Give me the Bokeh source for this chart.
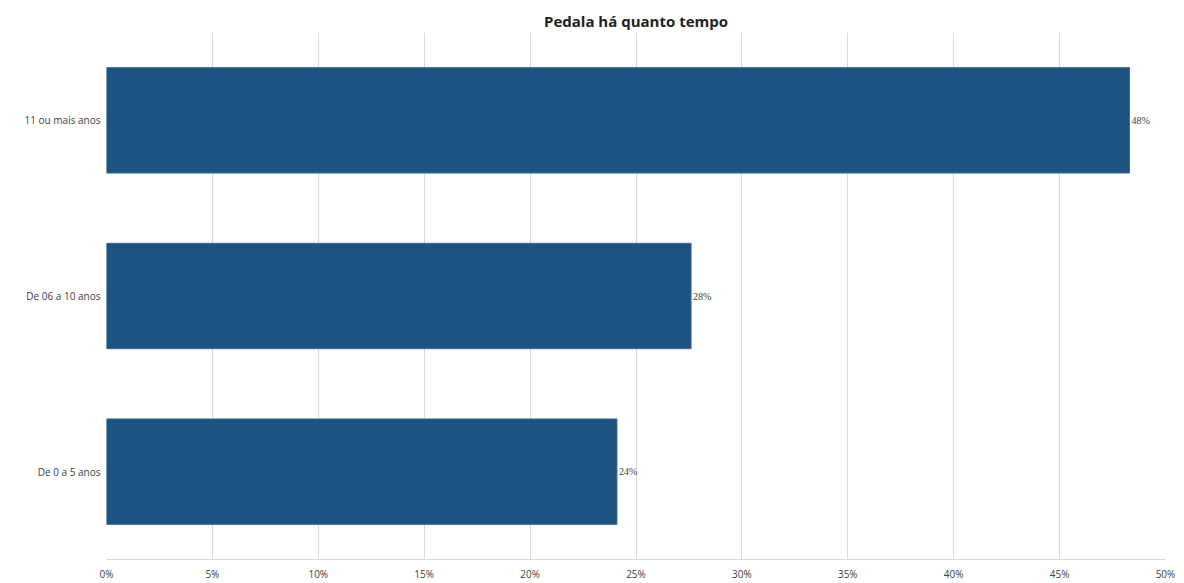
from bokeh.plotting import figure
from bokeh.models import ColumnDataSource, Range1d, FactorRange, NumeralTickFormatter, FixedTicker, LabelSet
from bokeh.embed import file_html
from bokeh.resources import INLINE

# Tempo de pedal (proporção de respondentes)
categories = ["De 0 a 5 anos", "De 06 a 10 anos", "11 ou mais anos"]
shares = [0.241, 0.276, 0.483]
tick_values = [0.0, 0.05, 0.10, 0.15, 0.20, 0.25, 0.30, 0.35, 0.40, 0.45, 0.50]

labels = ["{:.0f}%".format(v * 100) for v in shares]
source = ColumnDataSource(dict(cat=categories, share=shares, label=labels))

p = figure(
    width=1184, height=583,
    y_range=FactorRange(*categories, range_padding=0),
    x_range=Range1d(0, 0.5),
    output_backend="svg", toolbar_location=None,
    title="Pedala há quanto tempo",
    min_border_left=106, min_border_right=19,
    min_border_top=32, min_border_bottom=23,
)
p.title.align = "center"
p.title.text_font = "Open Sans"
p.title.text_font_size = "15px"
p.title.text_font_style = "bold"
p.title.text_color = "#222222"
p.title.offset = 0
p.title.standoff = 4

p.hbar(y="cat", right="share", left=0, height=0.6, source=source,
       fill_color="#1e5381", line_color="#3a6a94", line_width=1)

p.add_layout(LabelSet(x="share", y="cat", text="label", source=source,
                      x_offset=2, text_baseline="middle", text_align="left",
                      text_font="Open Sans", text_font_size="10px",
                      text_color="#404040"))

p.xaxis.ticker = FixedTicker(ticks=tick_values)
p.xaxis.formatter = NumeralTickFormatter(format="0%")
p.xaxis.major_tick_line_color = None
p.xaxis.minor_tick_line_color = None
p.xaxis.major_tick_out = 0
p.xaxis.minor_tick_out = 0
p.xaxis.axis_line_color = "#d9d9d9"
p.xaxis.major_label_text_font = "Open Sans"
p.xaxis.major_label_text_font_size = "10px"
p.xaxis.major_label_text_color = "#404040"
p.xaxis.major_label_standoff = 7

p.yaxis.major_tick_line_color = None
p.yaxis.minor_tick_line_color = None
p.yaxis.major_tick_out = 0
p.yaxis.minor_tick_out = 0
p.yaxis.axis_line_color = None
p.yaxis.major_label_text_font = "Open Sans"
p.yaxis.major_label_text_font_size = "10px"
p.yaxis.major_label_text_color = "#404040"
p.yaxis.major_label_standoff = 6

p.xgrid.grid_line_color = "#d9d9d9"
p.ygrid.grid_line_color = None
p.outline_line_color = None
p.background_fill_color = "white"
p.border_fill_color = "white"

open("out.html", "w").write(file_html(p, INLINE))
